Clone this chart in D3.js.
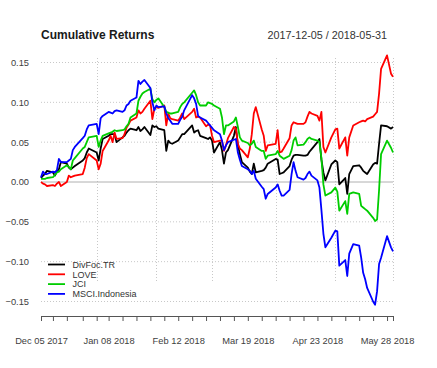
<!DOCTYPE html>
<html><head><meta charset="utf-8">
<script src="https://cdn.jsdelivr.net/npm/d3@7"></script>
<style>body{margin:0;background:#fff}svg{display:block;font-family:"Liberation Sans",Arial,sans-serif}</style>
</head><body><svg id="c" width="437" height="368"></svg>
<script>
const dates = [
"2017-12-05","2017-12-06","2017-12-07","2017-12-08","2017-12-11","2017-12-12","2017-12-13","2017-12-14","2017-12-15","2017-12-18","2017-12-19","2017-12-20","2017-12-21","2017-12-22","2017-12-26","2017-12-27","2017-12-28","2017-12-29",
"2018-01-02","2018-01-03","2018-01-04","2018-01-05","2018-01-08","2018-01-09","2018-01-10","2018-01-11","2018-01-12","2018-01-15","2018-01-16","2018-01-17","2018-01-18","2018-01-19","2018-01-22","2018-01-23","2018-01-24","2018-01-25","2018-01-26","2018-01-29","2018-01-30","2018-01-31",
"2018-02-01","2018-02-02","2018-02-05","2018-02-06","2018-02-07","2018-02-08","2018-02-09","2018-02-12","2018-02-13","2018-02-14","2018-02-15","2018-02-19","2018-02-20","2018-02-21","2018-02-22","2018-02-23","2018-02-26","2018-02-27","2018-02-28",
"2018-03-01","2018-03-02","2018-03-05","2018-03-06","2018-03-07","2018-03-08","2018-03-09","2018-03-12","2018-03-13","2018-03-14","2018-03-15","2018-03-16","2018-03-19","2018-03-20","2018-03-21","2018-03-22","2018-03-23","2018-03-26","2018-03-27","2018-03-28","2018-03-29",
"2018-04-02","2018-04-03","2018-04-04","2018-04-05","2018-04-06","2018-04-09","2018-04-10","2018-04-11","2018-04-12","2018-04-13","2018-04-16","2018-04-17","2018-04-18","2018-04-19","2018-04-20","2018-04-23","2018-04-24","2018-04-25","2018-04-26","2018-04-27","2018-04-30",
"2018-05-02","2018-05-03","2018-05-04","2018-05-07","2018-05-08","2018-05-09","2018-05-11","2018-05-14","2018-05-15","2018-05-16","2018-05-17","2018-05-18","2018-05-21","2018-05-22","2018-05-23","2018-05-24","2018-05-25","2018-05-28","2018-05-30","2018-05-31"];

const divFocTR = [
0.005,0.008,0.010,0.014,0.012,0.008,0.013,0.016,0.025,0.023,0.018,0.016,0.018,0.020,0.027,0.030,0.037,0.042,
0.037,0.027,0.042,0.054,0.058,0.060,0.060,0.060,0.050,0.056,0.058,0.062,0.065,0.067,0.065,0.069,0.064,0.066,0.069,0.059,0.071,0.069,
0.070,0.067,0.065,0.039,0.052,0.049,0.048,0.052,0.056,0.060,0.060,0.071,0.062,0.064,0.065,0.058,0.055,0.054,0.056,
0.052,0.037,0.050,0.040,0.023,0.037,0.040,0.058,0.069,0.046,0.035,0.025,0.018,0.013,0.010,0.023,0.012,0.014,0.015,0.018,0.023,
0.029,0.028,0.010,0.011,0.012,0.020,0.028,0.033,0.034,0.034,0.033,0.033,0.034,0.038,0.041,0.050,0.054,0.028,0.012,0.002,0.022,
0.027,0.025,-0.003,0.005,-0.015,0.010,0.020,0.021,0.018,0.014,0.012,0.010,0.022,0.024,0.023,0.048,0.071,0.070,0.067,0.069];

const love = [
0.000,-0.002,-0.003,-0.005,-0.004,-0.005,-0.002,0.000,-0.005,0.000,0.008,0.006,0.007,0.008,0.010,0.018,0.030,0.035,
0.027,0.016,0.023,0.039,0.052,0.058,0.050,0.062,0.054,0.055,0.060,0.068,0.072,0.077,0.081,0.090,0.086,0.088,0.092,0.102,0.079,0.092,
0.094,0.093,0.096,0.071,0.086,0.080,0.079,0.077,0.081,0.086,0.079,0.088,0.092,0.081,0.082,0.081,0.070,0.072,0.071,
0.058,0.050,0.052,0.052,0.039,0.046,0.055,0.069,0.067,0.048,0.042,0.040,0.031,0.042,0.060,0.086,0.094,0.066,0.058,0.039,0.046,
0.048,0.065,0.037,0.038,0.042,0.055,0.071,0.075,0.074,0.073,0.073,0.075,0.082,0.088,0.086,0.083,0.077,0.088,0.044,0.037,0.056,
0.066,0.067,0.042,0.056,0.033,0.056,0.071,0.075,0.076,0.077,0.076,0.079,0.082,0.085,0.088,0.111,0.142,0.159,0.136,0.132];

const jci = [
0.004,0.004,0.004,0.005,0.006,0.009,0.012,0.013,0.016,0.021,0.019,0.016,0.027,0.030,0.042,0.044,0.050,0.056,
0.058,0.044,0.052,0.058,0.061,0.062,0.063,0.065,0.064,0.065,0.066,0.070,0.073,0.081,0.086,0.102,0.107,0.111,0.113,0.117,0.104,0.100,
0.103,0.105,0.094,0.088,0.087,0.086,0.086,0.088,0.094,0.098,0.100,0.112,0.115,0.109,0.100,0.096,0.096,0.100,0.099,
0.098,0.096,0.092,0.081,0.060,0.071,0.071,0.076,0.081,0.069,0.056,0.052,0.049,0.046,0.048,0.052,0.044,0.039,0.039,0.029,0.033,
0.035,0.039,0.033,0.031,0.029,0.033,0.040,0.052,0.056,0.046,0.047,0.050,0.054,0.056,0.054,0.052,0.050,0.030,-0.003,-0.017,-0.013,
-0.007,-0.012,-0.036,-0.024,-0.040,-0.015,-0.013,-0.015,-0.030,-0.032,-0.034,-0.036,-0.045,-0.049,-0.047,-0.010,0.035,0.052,0.043,0.037];

const msciIndonesia = [
0.006,0.013,0.010,0.010,0.013,0.012,0.015,0.029,0.025,0.025,0.027,0.029,0.040,0.044,0.055,0.058,0.066,0.071,
0.073,0.060,0.080,0.083,0.088,0.087,0.086,0.089,0.090,0.088,0.090,0.096,0.098,0.102,0.106,0.127,0.123,0.126,0.128,0.118,0.100,0.090,
0.096,0.094,0.095,0.086,0.080,0.077,0.073,0.073,0.078,0.082,0.090,0.109,0.105,0.098,0.083,0.081,0.077,0.074,0.071,
0.068,0.065,0.060,0.052,0.040,0.046,0.050,0.053,0.054,0.037,0.028,0.020,0.016,0.014,0.010,0.014,0.004,-0.006,-0.009,-0.021,-0.015,
-0.007,-0.003,-0.011,-0.017,-0.017,-0.010,0.010,0.025,0.014,0.006,0.003,0.005,0.010,0.013,0.008,0.002,-0.007,-0.035,-0.065,-0.082,-0.070,
-0.061,-0.062,-0.105,-0.098,-0.118,-0.090,-0.078,-0.080,-0.095,-0.114,-0.122,-0.133,-0.150,-0.154,-0.137,-0.103,-0.095,-0.068,-0.082,-0.087];

const seriesNames = ["DivFoc.TR","LOVE","JCI","MSCI.Indonesia"];
const seriesValues = [divFocTR, love, jci, msciIndonesia];
const seriesColors = ["#000000","#ff0000","#00cd00","#0000ff"];
const yTickValues = [-0.15,-0.10,-0.05,0.00,0.05,0.10,0.15];
const titleText = "Cumulative Returns";
const rangeText = "2017-12-05 / 2018-05-31";

const parse = d3.timeParse("%Y-%m-%d");
const dts = dates.map(parse);
const svg = d3.select("#c");

const x = d3.scaleTime().domain([dts[0], dts[dts.length-1]]).range([41, 393]);
const y = d3.scaleLinear().domain([-0.15, 0.15]).range([301.5, 62.5]);

// horizontal grid
svg.append("g").selectAll("line").data(yTickValues.filter(v => v !== 0)).join("line")
  .attr("x1", 41).attr("x2", 393).attr("y1", d => y(d)).attr("y2", d => y(d))
  .attr("stroke", "#c8c8c8").attr("stroke-width", 1).attr("stroke-dasharray", "1,2");

// vertical grid: first obs of each month + last obs
const monthStarts = dts.filter((d, i) => i > 0 && d.getMonth() !== dts[i-1].getMonth());
monthStarts.push(dts[dts.length-1]);
svg.append("g").selectAll("line").data(monthStarts).join("line")
  .attr("x1", d => Math.round(x(d)) + 0.5).attr("x2", d => Math.round(x(d)) + 0.5)
  .attr("y1", 58).attr("y2", 281)
  .attr("stroke", "#c8c8c8").attr("stroke-width", 1).attr("stroke-dasharray", "1,2");

// zero line
svg.append("line").attr("x1", 41).attr("x2", 393).attr("y1", y(0)).attr("y2", y(0))
  .attr("stroke", "#b0b0b0").attr("stroke-width", 1);

// y axis labels
const yAxis = d3.axisLeft(y).tickValues(yTickValues).tickSize(0).tickPadding(0).tickFormat(d3.format(".2f"));
const gy = svg.append("g").attr("transform", "translate(29,0)").call(yAxis);
gy.select(".domain").remove();
gy.selectAll("text").attr("fill", "#404040").style("font-size", "9.3px").style("font-family", '"Liberation Sans",Arial,sans-serif');

// lines
const line = d3.line().x((d, i) => x(dts[i])).y(d => y(d));
seriesValues.forEach((vals, k) => {
  svg.append("path").datum(vals).attr("d", line)
    .attr("fill", "none").attr("stroke", seriesColors[k]).attr("stroke-width", 1.8)
    .attr("stroke-linejoin", "round");
});

// x axis: first obs of each week + last obs
const weekTicks = dts.filter((d, i) => i === 0 || d3.timeMonday.floor(d).getTime() !== d3.timeMonday.floor(dts[i-1]).getTime());
const lastD = dts[dts.length-1];
const allTicks = weekTicks.concat([lastD]);
const fmt = d3.timeFormat("%b %d %Y");
const xAxis = d3.axisBottom(x).tickValues(allTicks).tickSizeInner(5).tickSizeOuter(0).tickPadding(16)
  .tickFormat((d) => { const j = weekTicks.indexOf(d); return (j >= 0 && j % 5 === 0) ? fmt(d) : ""; });
const gx = svg.append("g").attr("transform", "translate(0,316)").call(xAxis);
gx.select(".domain").attr("stroke", "#555");
gx.selectAll(".tick line").attr("stroke", "#555");
gx.selectAll("text").attr("fill", "#404040").style("font-size", "9.3px").style("font-family", '"Liberation Sans",Arial,sans-serif');

// title and range
svg.append("text").attr("x", 41).attr("y", 38.5).text(titleText)
  .style("font-weight", "bold").style("font-size", "12px").attr("fill", "#1a1a1a");
svg.append("text").attr("x", 387).attr("y", 38.5).attr("text-anchor", "end").text(rangeText)
  .style("font-size", "10.8px").attr("fill", "#333");

// legend
const lg = svg.append("g");
seriesNames.forEach((n, k) => {
  const yy = 264.5 + k * 9.8;
  lg.append("line").attr("x1", 48).attr("x2", 65).attr("y1", yy).attr("y2", yy)
    .attr("stroke", seriesColors[k]).attr("stroke-width", 1.8);
  lg.append("text").attr("x", 72.5).attr("y", yy + 3.3).text(n)
    .style("font-size", "9px").attr("fill", "#333");
});
</script></body></html>
